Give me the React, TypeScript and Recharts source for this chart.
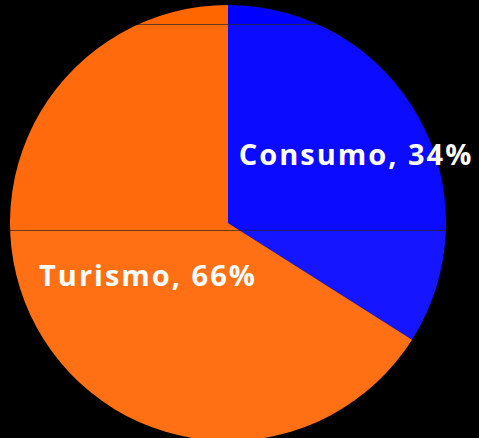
import { PieChart, Pie, Cell } from 'recharts';

const categories = ['Consumo', 'Turismo'];
const values = [34, 66];

const data = categories.map((name, i) => ({ name, value: values[i] }));

const H = 438;
const RADIAN = Math.PI / 180;
const labelRatio = [0.66, 0.44];
const labelShift = [[2, 0], [4, 5]];

// colour bands: top strip, middle, bottom, separated by thin dark lines
const bands = {
    orange: ['#FF6600', '#FF6B0C', '#FF7015'],
    blue: ['#0000FF', '#0B0BFF', '#1515FF'],
};

function Band({ id, c, line }: any) {
    const a = 24 / H, b = 25 / H, d = 230 / H, e = 231 / H;
    return (
        <linearGradient id={id} gradientUnits="userSpaceOnUse" x1="0" y1="0" x2="0" y2={H}>
            <stop offset={0} stopColor={c[0]} />
            <stop offset={a} stopColor={c[0]} />
            <stop offset={a} stopColor={line} />
            <stop offset={b} stopColor={line} />
            <stop offset={b} stopColor={c[1]} />
            <stop offset={d} stopColor={c[1]} />
            <stop offset={d} stopColor={line} />
            <stop offset={e} stopColor={line} />
            <stop offset={e} stopColor={c[2]} />
            <stop offset={1} stopColor={c[2]} />
        </linearGradient>
    );
}

const renderLabel = ({ cx, cy, midAngle, outerRadius, index, name, value }: any) => {
    const r = outerRadius * labelRatio[index];
    const x = cx + r * Math.cos(-midAngle * RADIAN) + labelShift[index][0];
    const y = cy + r * Math.sin(-midAngle * RADIAN) + labelShift[index][1];
    return (
        <text x={x} y={y} fill="#fff" textAnchor="middle" dominantBaseline="central"
            fontFamily="Open Sans" fontWeight="bold" fontSize={29} letterSpacing={2}>
            {`${name}, ${value}%`}
        </text>
    );
};

export default function App() {
    return (
        <div style={{ position: 'fixed', left: 0, top: 0, width: 479, height: 438, background: '#000' }}>
            <PieChart width={479} height={438} margin={{ top: 0, right: 0, bottom: 0, left: 0 }}>
                <defs>
                    <Band id="gOrange" c={bands.orange} line="#6a3a1a" />
                    <Band id="gBlue" c={bands.blue} line="#202060" />
                </defs>
                <Pie
                    data={data}
                    dataKey="value"
                    nameKey="name"
                    cx={228}
                    cy={223}
                    outerRadius={218}
                    startAngle={90}
                    endAngle={-270}
                    stroke="none"
                    label={renderLabel}
                    labelLine={false}
                    isAnimationActive={false}
                >
                    <Cell fill="url(#gBlue)" />
                    <Cell fill="url(#gOrange)" />
                </Pie>
            </PieChart>
        </div>
    );
}
